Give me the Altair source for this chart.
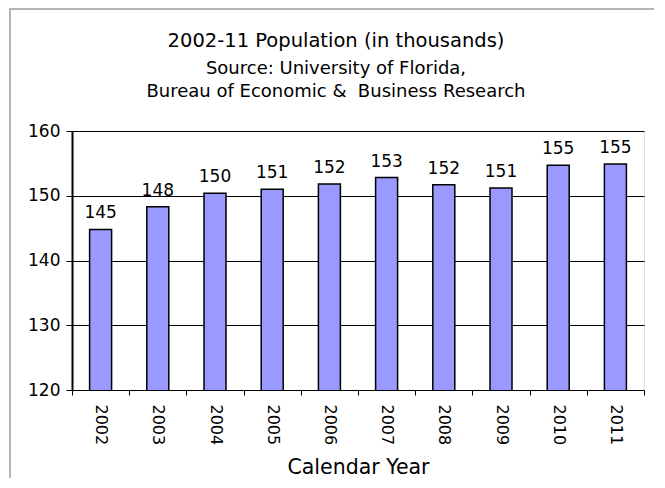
import altair as alt
import pandas as pd

years = ["2002", "2003", "2004", "2005", "2006", "2007", "2008", "2009", "2010", "2011"]
population = [144.8, 148.3, 150.4, 151.0, 151.8, 152.8, 151.7, 151.2, 154.7, 154.9]

title_line = "2002-11 Population (in thousands)"
source_line1 = "Source: University of Florida,"
source_line2 = "Bureau of Economic &\u00a0 Business Research"

df = pd.DataFrame({"year": years, "pop": population})

FONT = "DejaVu Sans"

base = alt.Chart(df)

x_enc = alt.X(
    "year:N",
    sort=years,
    scale=alt.Scale(paddingInner=0, paddingOuter=0),
    axis=alt.Axis(
        title="Calendar Year",
        labelAngle=90,
        labelAlign="left",
        labelBaseline="middle",
        labelPadding=9,
        labelFontSize=16,
        labelFont=FONT,
        labelColor="black",
        tickBand="extent",
        tickSize=5,
        tickColor="black",
        tickWidth=1,
        domain=False,
        titleFont=FONT,
        titleFontSize=20.5,
        titleFontWeight="normal",
        titleColor="black",
        titleY=83,
        titleBaseline="alphabetic",
        zindex=1,
    ),
)

y_enc = alt.Y(
    "pop:Q",
    scale=alt.Scale(domain=[120, 160], nice=False, zero=False),
    axis=alt.Axis(
        title=None,
        values=[120, 130, 140, 150, 160],
        labelFontSize=17,
        labelFont=FONT,
        labelColor="black",
        labelPadding=6,
        tickSize=6,
        tickColor="black",
        grid=True,
        gridColor="black",
        gridWidth=1,
        domainColor="black",
        domainWidth=2,
    ),
)

bars = base.mark_bar(
    size=22, color="#9999FF", stroke="black", strokeWidth=1.5, clip=True
).encode(x=x_enc, y=y_enc)

labels = base.mark_text(
    baseline="alphabetic", dy=-11, font=FONT, fontSize=17, color="black"
).encode(
    x=alt.X("year:N", sort=years),
    y=alt.Y("pop:Q"),
    text=alt.Text("pop:Q", format=".0f"),
)

one = alt.Data(values=[{}])
frame_left = alt.Chart(one).mark_rule(color="#b4b4b4", strokeWidth=2).encode(
    x=alt.value(-62), y=alt.value(-123), y2=alt.value(500)
)
frame_top = alt.Chart(one).mark_rule(color="#b4b4b4", strokeWidth=2).encode(
    x=alt.value(-63), x2=alt.value(700), y=alt.value(-122)
)

t1 = alt.Chart(one).mark_text(
    text=title_line, font=FONT, fontSize=19.5, color="black", baseline="alphabetic", align="center"
).encode(x=alt.value(264), y=alt.value(-84))
t2 = alt.Chart(one).mark_text(
    text=source_line1, font=FONT, fontSize=18, color="black", baseline="alphabetic", align="center"
).encode(x=alt.value(264), y=alt.value(-57))
t3 = alt.Chart(one).mark_text(
    text=source_line2, font=FONT, fontSize=18, color="black", baseline="alphabetic", align="center"
).encode(x=alt.value(264), y=alt.value(-34))

chart = alt.layer(frame_left, frame_top, t1, t2, t3, bars, labels).properties(
    width=572,
    height=259,
    autosize=alt.AutoSizeParams(type="none"),
    padding={"left": 64, "top": 123, "right": 10, "bottom": 88},
).configure_view(stroke="black", strokeWidth=1.5).configure(background="white")

chart.save("out.html", embed_options={"renderer": "svg", "actions": False})
